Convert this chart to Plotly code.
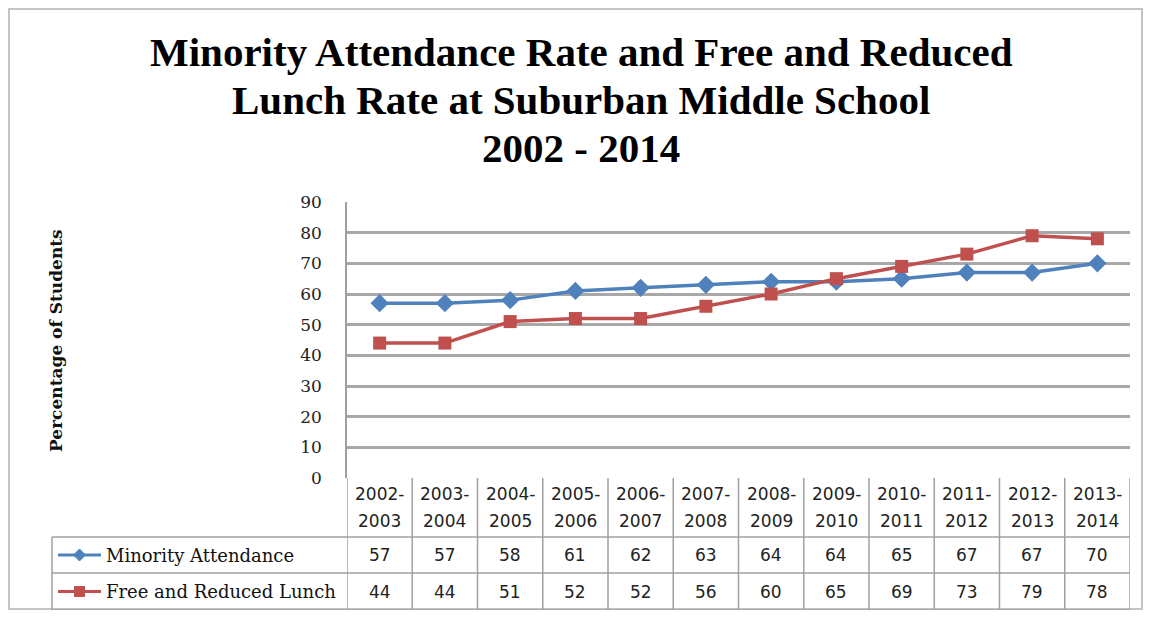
import plotly.graph_objects as go

categories = ["2002-2003", "2003-2004", "2004-2005", "2005-2006", "2006-2007", "2007-2008",
              "2008-2009", "2009-2010", "2010-2011", "2011-2012", "2012-2013", "2013-2014"]
minority = [57, 57, 58, 61, 62, 63, 64, 64, 65, 67, 67, 70]
free_lunch = [44, 44, 51, 52, 52, 56, 60, 65, 69, 73, 79, 78]
series_names = ["Minority Attendance", "Free and Reduced Lunch"]
title_lines = ["Minority Attendance Rate and Free and Reduced",
               "Lunch Rate at Suburban Middle School",
               "2002 - 2014"]
y_title = "Percentage of Students"
y_ticks = [0, 10, 20, 30, 40, 50, 60, 70, 80, 90]

OFF = 8  # page body margin
W, H = 1151 - 2 * OFF, 618 - 2 * OFF
# reference pixel geometry
RL, RR, RT, RB = 347, 1130, 202, 478
L, R, T, B = RL - OFF, RR - OFF, RT - OFF, RB - OFF
BLUE = "#4F81BD"
RED = "#C0504D"
GRID = "#a8a8a8"
TBL = "#a0a0a0"
SERIF = "Liberation Serif"
DSERIF = "DejaVu Serif"
SANS = "DejaVu Sans"


def px(x):
    return (x - OFF - L) / (R - L)


def py(y):
    return (B - (y - OFF)) / (B - T)


fig = go.Figure()
fig.add_trace(go.Scatter(x=categories, y=minority, mode="lines+markers", name=series_names[0],
                         line=dict(color=BLUE, width=3.5),
                         marker=dict(symbol="diamond", size=14, color=BLUE)))
fig.add_trace(go.Scatter(x=categories, y=free_lunch, mode="lines+markers", name=series_names[1],
                         line=dict(color=RED, width=3.5),
                         marker=dict(symbol="square", size=13, color=RED)))

shapes = []
annotations = []

# outer frame
shapes.append(dict(type="rect", xref="paper", yref="paper", x0=px(OFF + 1), x1=px(OFF + W - 1),
                   y0=py(OFF + 1), y1=py(OFF + H - 1),
                   line=dict(color="#c4c4c4", width=2), layer="below"))

# title
for txt, yc in zip(title_lines, [52, 100, 148]):
    annotations.append(dict(x=px(581), xref="paper", y=py(yc), yref="paper", text="<b>" + txt + "</b>",
                            showarrow=False, font=dict(family=SERIF, size=41, color="#000"),
                            xanchor="center", yanchor="middle"))

# table geometry (reference pixels)
row_top = 537
row_mid = 573
row_bot = 610
leg_left = 52

n = len(categories)
for i in range(n + 1):
    shapes.append(dict(type="line", xref="x", yref="paper", x0=i - 0.5, x1=i - 0.5,
                       y0=py(RB), y1=py(row_bot), line=dict(color=TBL, width=1.5)))
shapes.append(dict(type="line", xref="paper", yref="paper", x0=px(leg_left), x1=px(leg_left),
                   y0=py(row_top), y1=py(row_bot), line=dict(color=TBL, width=1.5)))
for yy in (row_top, row_mid, row_bot):
    shapes.append(dict(type="line", xref="paper", yref="paper", x0=px(leg_left), x1=px(RR),
                       y0=py(yy), y1=py(yy), line=dict(color=TBL, width=1.5)))

# header labels
for c in categories:
    a, b = c.split("-")
    annotations.append(dict(x=c, xref="x", y=py(494), yref="paper", text=a + "-", showarrow=False,
                            font=dict(family=SANS, size=17, color="#222"), xanchor="center", yanchor="middle"))
    annotations.append(dict(x=c, xref="x", y=py(521), yref="paper", text=b, showarrow=False,
                            font=dict(family=SANS, size=17, color="#222"), xanchor="center", yanchor="middle"))

# data rows
row_centers = [(row_top + row_mid) / 2, (row_mid + row_bot) / 2]
for vals, yc in zip([minority, free_lunch], row_centers):
    for c, v in zip(categories, vals):
        annotations.append(dict(x=c, xref="x", y=py(yc), yref="paper", text=str(v), showarrow=False,
                                font=dict(family=SANS, size=17, color="#222"), xanchor="center", yanchor="middle"))

# legend keys
for name, col, sym, yc in zip(series_names, [BLUE, RED], ["diamond", "square"], row_centers):
    shapes.append(dict(type="line", xref="paper", yref="paper", x0=px(58), x1=px(101),
                       y0=py(yc), y1=py(yc), line=dict(color=col, width=3)))
    if sym == "diamond":
        path = "M 0,6 L 6,0 L 0,-6 L -6,0 Z"
    else:
        path = "M -5,-5 L 5,-5 L 5,5 L -5,5 Z"
    shapes.append(dict(type="path", xref="paper", yref="paper", xsizemode="pixel", ysizemode="pixel",
                       xanchor=px(79.5), yanchor=py(yc), path=path, fillcolor=col,
                       line=dict(color=col, width=1)))
    annotations.append(dict(x=px(104), xref="paper", y=py(yc), yref="paper", text=name, showarrow=False,
                            font=dict(family=DSERIF, size=18, color="#111"), xanchor="left", yanchor="middle"))

# y-axis title
annotations.append(dict(x=px(56), xref="paper", y=py(341), yref="paper", text="<b>" + y_title + "</b>",
                        showarrow=False, textangle=-90, font=dict(family=DSERIF, size=17, color="#111"),
                        xanchor="center", yanchor="middle"))

fig.update_layout(
    width=W, height=H,
    margin=dict(l=L, r=W - R, t=T, b=H - B, pad=0),
    paper_bgcolor="white", plot_bgcolor="white",
    showlegend=False,
    shapes=shapes,
    annotations=annotations,
    xaxis=dict(type="category", categoryorder="array", categoryarray=categories,
               range=[-0.5, n - 0.5], showticklabels=False, showgrid=False, zeroline=False,
               showline=False, ticks="", fixedrange=True),
    yaxis=dict(range=[0, 90], tickvals=y_ticks, showgrid=True, gridcolor=GRID, gridwidth=2.5,
               zeroline=False, showline=True, linecolor=TBL, linewidth=1.5, ticks="",
               ticklabelstandoff=20, tickfont=dict(family=DSERIF, size=17, color="#222"), fixedrange=True),
)

fig.write_html("out.html")
